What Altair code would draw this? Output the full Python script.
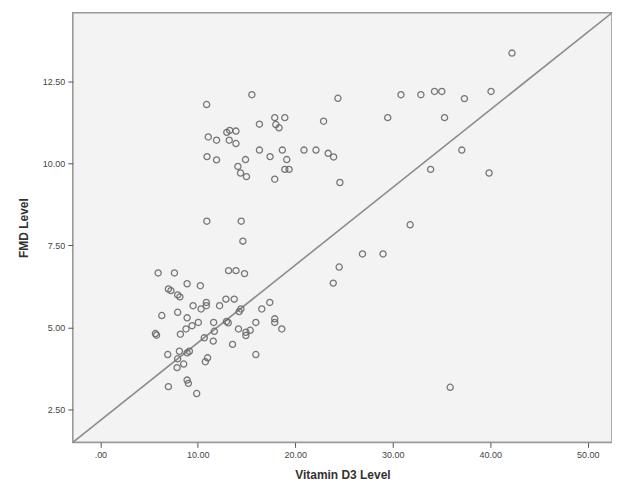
import altair as alt
import pandas as pd

vitamin_d3 = [42.23, 30.84, 32.88, 34.28, 35.03, 37.35, 40.08, 29.48, 35.31, 37.08,
              33.88, 39.88, 31.78, 26.89, 29.00, 24.50, 23.89, 35.89, 15.54, 10.90,
              24.37, 22.90, 17.89, 18.92, 18.00, 18.33, 16.32, 12.97, 13.27, 13.91,
              13.22, 13.91, 11.07, 11.92, 10.94, 11.92, 14.89, 14.11, 14.38, 14.99,
              16.32, 17.41, 18.67, 19.12, 18.92, 19.36, 17.89, 20.89, 22.12, 23.37,
              23.93, 24.57, 8.90, 10.26, 6.98, 7.24, 7.93, 8.16, 10.87, 10.87,
              9.51, 12.88, 13.73, 12.23, 10.33, 14.42, 14.24, 17.38, 16.56, 6.30,
              7.93, 8.90, 10.05, 11.62, 12.94, 13.12, 15.95, 17.89, 17.89, 9.41,
              8.79, 8.21, 5.65, 5.76, 11.69, 14.17, 14.93, 15.37, 18.61, 10.66,
              11.58, 13.56, 14.93, 15.95, 6.91, 8.11, 8.90, 9.13, 7.93, 8.55,
              7.87, 11.00, 10.77, 6.98, 8.90, 9.03, 9.88, 14.62, 5.93, 7.60,
              13.15, 13.91, 14.79, 10.92, 14.45]
fmd = [13.37, 12.10, 12.10, 12.20, 12.20, 11.98, 12.20, 11.40, 11.40, 10.41,
       9.82, 9.71, 8.13, 7.24, 7.24, 6.84, 6.35, 3.17, 12.10, 11.80,
       11.99, 11.29, 11.40, 11.40, 11.19, 11.09, 11.20, 10.95, 11.01, 10.99,
       10.71, 10.61, 10.81, 10.71, 10.21, 10.11, 10.12, 9.91, 9.71, 9.60,
       10.41, 10.21, 10.41, 10.12, 9.82, 9.82, 9.52, 10.41, 10.41, 10.31,
       10.20, 9.42, 6.33, 6.27, 6.17, 6.12, 5.99, 5.93, 5.76, 5.66,
       5.66, 5.86, 5.86, 5.66, 5.56, 5.56, 5.48, 5.76, 5.56, 5.36,
       5.46, 5.29, 5.15, 5.15, 5.18, 5.14, 5.15, 5.26, 5.15, 5.05,
       4.95, 4.79, 4.81, 4.76, 4.88, 4.95, 4.85, 4.91, 4.95, 4.68,
       4.58, 4.48, 4.75, 4.17, 4.17, 4.27, 4.22, 4.27, 4.04, 3.88,
       3.77, 4.07, 3.95, 3.19, 3.39, 3.29, 2.98, 7.63, 6.66, 6.66,
       6.73, 6.73, 6.64, 8.24, 8.24]

x_range = [-2.83, 52.49]
y_range = [1.49, 14.60]
x_ticks = [0, 10, 20, 30, 40, 50]
y_ticks = [2.5, 5.0, 7.5, 10.0, 12.5]

points = pd.DataFrame({"Vitamin D3 Level": vitamin_d3, "FMD Level": fmd})
ref = pd.DataFrame({"Vitamin D3 Level": x_range, "FMD Level": y_range})

label_font = "Liberation Sans"

x_scale = alt.Scale(domain=x_range, nice=False, zero=False)
y_scale = alt.Scale(domain=y_range, nice=False, zero=False)

x_axis = alt.Axis(values=x_ticks, grid=False, domain=False, tickSize=5,
                  tickColor="#555555", labelColor="#444444", labelFontSize=9,
                  labelFont=label_font, labelPadding=3,
                  labelExpr="datum.value == 0 ? '.00' : format(datum.value, '.2f')",
                  title="Vitamin D3 Level", titleFont=label_font, titleFontSize=12,
                  titleFontWeight="bold", titleColor="#333333", titlePadding=10)
y_axis = alt.Axis(values=y_ticks, grid=False, domain=False, tickSize=5,
                  tickColor="#555555", labelColor="#444444", labelFontSize=9,
                  labelFont=label_font, labelPadding=3, format=".2f",
                  title="FMD Level", titleFont=label_font, titleFontSize=12,
                  titleFontWeight="bold", titleColor="#333333", titlePadding=12)

line = alt.Chart(ref).mark_line(color="#8c8c8c", strokeWidth=1.6).encode(
    x=alt.X("Vitamin D3 Level:Q", scale=x_scale, axis=x_axis),
    y=alt.Y("FMD Level:Q", scale=y_scale, axis=y_axis),
)

pts = alt.Chart(points).mark_point(shape="circle", filled=False, size=38,
                                   color="#6a6a6a", strokeWidth=1.3, opacity=0.9).encode(
    x=alt.X("Vitamin D3 Level:Q", scale=x_scale, axis=x_axis),
    y=alt.Y("FMD Level:Q", scale=y_scale, axis=y_axis),
)

chart = alt.layer(line, pts).properties(
    width=541, height=431,
    autosize=alt.AutoSizeParams(type="none"),
    padding={"left": 65, "top": 4, "right": 0, "bottom": 40},
    background="white",
).configure_view(fill="#f3f3f3", stroke="#9a9a9a", strokeWidth=1.6)

chart.save("out.html", embed_options={"renderer": "svg", "actions": False})
